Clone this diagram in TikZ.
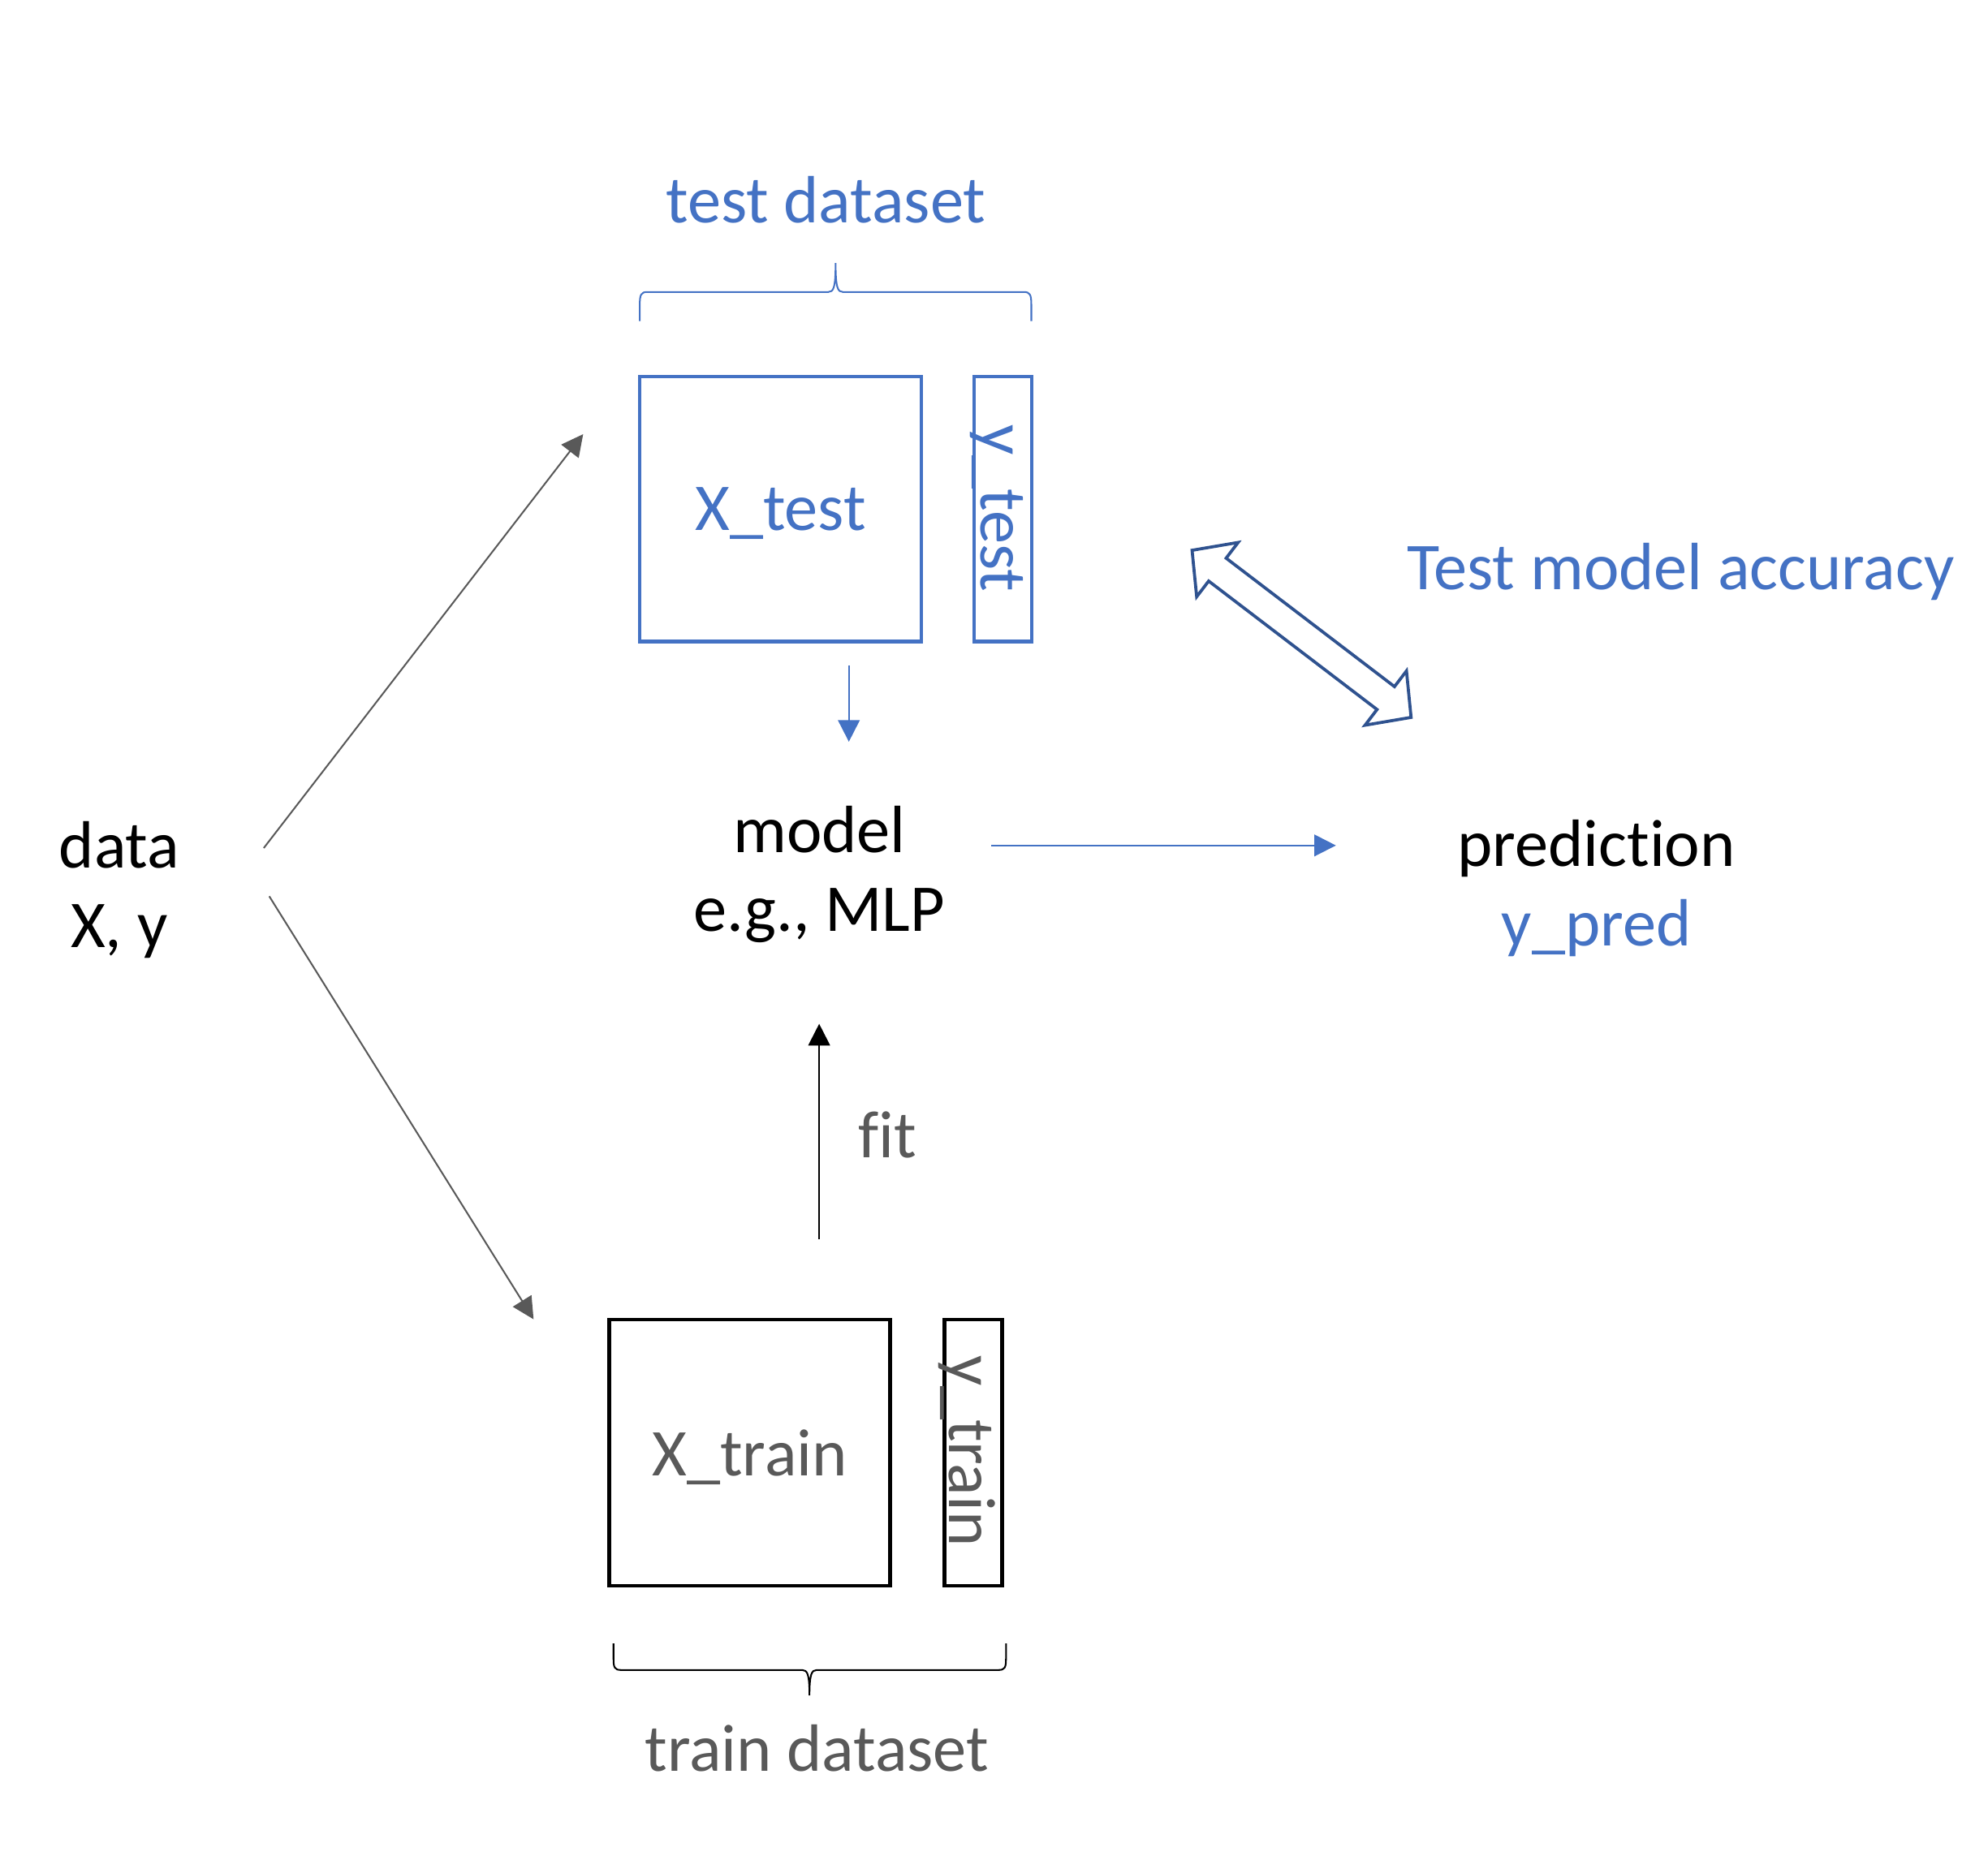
\documentclass[tikz,border=0pt]{standalone}
\usepackage{fontspec}
\setmainfont{Carlito}[Ligatures={NoCommon,NoContextual}]
\usetikzlibrary{arrows.meta}
\definecolor{accblue}{HTML}{4472C4}
\definecolor{darkblue}{HTML}{2F528F}
\definecolor{txtgray}{HTML}{595959}
\begin{document}
\begin{tikzpicture}[x=1pt,y=-1pt,font=\fontsize{52.5}{62}\selectfont,
  txt/.style={anchor=base,align=center,inner sep=0pt},
  block/.style={draw,line width=2.9pt,inner sep=0pt,text depth=0pt},
  ylbl/.style={anchor=base,rotate=-90,inner sep=0pt},
  conn/.style={line width=1.3pt,-{Triangle[length=17pt,width=17pt]}},
  curly/.style={line width=1.3pt}]
\useasboundingbox (0,0) rectangle (1560,1456.2);
% text (base = last line)
\node[txt] (data) at (93.5,743.4) {data\\X, y};
\node[txt] (model) at (643,731.1) {model\\e.g., MLP};
\node[txt] (pred) at (1252.7,742.1) {prediction\\{\color{accblue}y\_pred}};
\node[txt,text=accblue] (acc) at (1319,463) {Test model accuracy};
\node[txt,text=accblue] (testset) at (648,174.6) {test dataset};
\node[txt,text=txtgray] (trainset) at (641,1390.5) {train dataset};
% boxes
\node[block,draw=accblue,text=accblue,minimum width=221pt,minimum height=208pt] (Xtest) at (612.5,399.5) {X\_test};
\node[block,draw=accblue,minimum width=45.5pt,minimum height=208pt] (ytest) at (787,399.5) {};
\node[ylbl,text=accblue] (ytestlbl) at (770,399) {y\_test};
\node[block,text=txtgray,minimum width=220.6pt,minimum height=209pt] (Xtrain) at (588.3,1140.1) {X\_train};
\node[block,minimum width=45.5pt,minimum height=209pt] (ytrain) at (763.75,1140.1) {};
\node[ylbl,text=txtgray] (ytrainlbl) at (745.2,1139) {y\_train};
% arrow ends
\coordinate (splitup) at (207,665.6);
\coordinate (splitdn) at (211.3,703.5);
\coordinate (testin) at (457.6,340.8);
\coordinate (trainin) at (418.7,1035.5);
\coordinate (testout) at (666.1,522.3);
\coordinate (modelin) at (666.1,582.2);
\coordinate (modelout) at (778,663.6);
\coordinate (predin) at (1048.3,663.6);
\coordinate (trainout) at (642.8,972.8);
\coordinate (modelfit) at (642.8,803.6);
% connectors
\draw[conn,txtgray] (splitup) -- (testin);
\draw[conn,txtgray] (splitdn) -- (trainin);
\draw[conn,accblue] (testout) -- (modelin);
\draw[conn,accblue] (modelout) -- (predin);
\draw[conn,black] (trainout) -- (modelfit);
\node[txt,text=txtgray] (fit) at (696.5,908.8) {fit};
% braces
\draw[curly,accblue] (502,252) -- (502,240) .. controls (502,231) and (503,229.2) .. (508,229.2)
  -- (650,229.2) .. controls (654,229.2) and (655.7,226) .. (655.7,206.4)
  .. controls (655.7,226) and (657.4,229.2) .. (661.4,229.2)
  -- (803.3,229.2) .. controls (808.3,229.2) and (809.3,231) .. (809.3,240) -- (809.3,252);
\draw[curly,black] (481.4,1290) -- (481.4,1302) .. controls (481.4,1309) and (482.4,1310.8) .. (487.4,1310.8)
  -- (629.5,1310.8) .. controls (633.5,1310.8) and (635.2,1314) .. (635.2,1330.8)
  .. controls (635.2,1314) and (636.9,1310.8) .. (640.9,1310.8)
  -- (783.4,1310.8) .. controls (788.4,1310.8) and (789.4,1309) .. (789.4,1302) -- (789.4,1290);
% accuracy arrow
\begin{scope}[shift={(1021.35,497.5)},rotate=-37.35]
\draw[darkblue,line width=2.4pt,fill=white,line join=miter]
  (-108.1,0) -- (-83.1,26.8) -- (-83.1,11.3) -- (83.1,11.3) -- (83.1,26.8) -- (108.1,0)
  -- (83.1,-26.8) -- (83.1,-11.3) -- (-83.1,-11.3) -- (-83.1,-26.8) -- cycle;
\end{scope}
\end{tikzpicture}
\end{document}
